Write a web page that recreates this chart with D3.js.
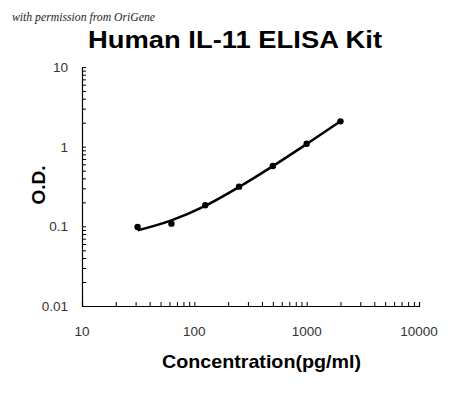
<!DOCTYPE html>
<html>
<head>
<meta charset="utf-8">
<script src="https://cdnjs.cloudflare.com/ajax/libs/d3/7.8.5/d3.min.js"></script>
<style>
	body { margin: 0; background: #fff; }
	svg { display: block; }
</style>
</head>
<body>
<svg id="chart"></svg>
<script>

var w = 450;
var h = 393;

// standards (pg/ml) and measured O.D.
var conc = [31.25, 62.5, 125, 250, 500, 1000, 2000];
var od = [0.098, 0.108, 0.184, 0.315, 0.573, 1.09, 2.08];
// trendline values at the same concentrations
var fit = [0.089, 0.119, 0.181, 0.312, 0.570, 1.08, 2.08];

var xTicks = [10, 100, 1000, 10000];
var yTicks = [0.01, 0.1, 1, 10];
var yTickLabels = ['0.01', '0.1', '1', '10'];

var margin = { left: 82, right: 31, top: 67, bottom: 87 };

var svg = d3.select('#chart')
	.attr('width', w)
	.attr('height', h);

var x = d3.scaleLog()
	.domain([10, 10000])
	.range([margin.left, w - margin.right]);

var y = d3.scaleLog()
	.domain([0.01, 10])
	.range([h - margin.bottom, margin.top]);

// minor ticks for each decade
var xMinor = [];
var yMinor = [];
[10, 100, 1000].forEach(function(d) {
	for (var i = 2; i < 10; i++) xMinor.push(d * i);
});
[0.01, 0.1, 1].forEach(function(d) {
	for (var i = 2; i < 10; i++) yMinor.push(+(d * i).toPrecision(3));
});

// watermark
svg.append('text')
	.attr('x', 12)
	.attr('y', 21)
	.attr('textLength', 143)
	.attr('lengthAdjust', 'spacingAndGlyphs')
	.style('font-family', 'Liberation Serif')
	.style('font-style', 'italic')
	.style('font-size', '11.5px')
	.style('fill', '#222')
	.text('with permission from OriGene');

// title
svg.append('text')
	.attr('x', 88)
	.attr('y', 47.5)
	.attr('textLength', 294)
	.attr('lengthAdjust', 'spacingAndGlyphs')
	.style('font-family', 'Liberation Sans, Arial')
	.style('font-weight', 'bold')
	.style('font-size', '23px')
	.text('Human IL-11 ELISA Kit');

// axes, ticks pointing into the plot
var xAxis = svg.append('g')
	.attr('transform', 'translate(0,' + (h - margin.bottom) + ')')
	.call(d3.axisBottom(x).tickValues(xTicks.concat(xMinor)).tickSize(-4).tickFormat(''));

var yAxis = svg.append('g')
	.attr('transform', 'translate(' + margin.left + ',0)')
	.call(d3.axisLeft(y).tickValues(yTicks.concat(yMinor)).tickSize(-4).tickFormat(''));

[xAxis, yAxis].forEach(function(a) {
	a.select('.domain').attr('stroke', '#000').attr('stroke-width', 1.2);
	a.selectAll('.tick line').attr('stroke', '#000');
});

svg.selectAll('.xlab')
	.data(xTicks)
	.enter()
	.append('text')
	.attr('class', 'xlab')
	.attr('x', function(d) { return x(d); })
	.attr('y', h - margin.bottom + 30)
	.attr('text-anchor', 'middle')
	.style('font-family', 'Liberation Sans, Arial')
	.style('font-size', '13.5px')
	.style('fill', '#333')
	.text(function(d) { return d; });

svg.selectAll('.ylab')
	.data(yTicks)
	.enter()
	.append('text')
	.attr('class', 'ylab')
	.attr('x', margin.left - 14)
	.attr('y', function(d) { return y(d); })
	.attr('dy', '0.36em')
	.attr('text-anchor', 'end')
	.style('font-family', 'Liberation Sans, Arial')
	.style('font-size', '13.5px')
	.style('fill', '#333')
	.text(function(d, i) { return yTickLabels[i]; });

// axis titles
svg.append('text')
	.attr('x', 162)
	.attr('y', 368)
	.attr('textLength', 199)
	.attr('lengthAdjust', 'spacingAndGlyphs')
	.style('font-family', 'Liberation Sans, Arial')
	.style('font-weight', 'bold')
	.style('font-size', '18.5px')
	.text('Concentration(pg/ml)');

svg.append('text')
	.attr('transform', 'translate(45,185) rotate(-90)')
	.attr('text-anchor', 'middle')
	.style('font-family', 'Liberation Sans, Arial')
	.style('font-weight', 'bold')
	.style('font-size', '19px')
	.text('O.D.');

// trendline
var line = d3.line()
	.x(function(d, i) { return x(conc[i]); })
	.y(function(d) { return y(d); })
	.curve(d3.curveMonotoneX);

svg.append('path')
	.datum(fit)
	.attr('d', line)
	.attr('fill', 'none')
	.attr('stroke', '#000')
	.attr('stroke-width', 2.5);

// points
svg.selectAll('.pt')
	.data(od)
	.enter()
	.append('circle')
	.attr('class', 'pt')
	.attr('cx', function(d, i) { return x(conc[i]); })
	.attr('cy', function(d) { return y(d); })
	.attr('r', 3.2)
	.attr('fill', '#000');

</script>
</body>
</html>
